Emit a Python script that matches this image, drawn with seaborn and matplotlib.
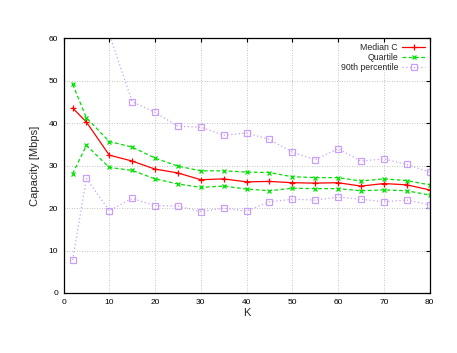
import numpy as np
import matplotlib
matplotlib.use("Agg")
import matplotlib.pyplot as plt
import seaborn as sns

# valores
k = [2, 5, 10, 15, 20, 25, 30, 35, 40, 45, 50, 55, 60, 65, 70, 75, 80]
median_c = [43.6, 40.3, 32.5, 31.1, 29.2, 28.3, 26.7, 26.9, 26.2, 26.3, 26.0, 25.9, 26.0, 25.2, 25.8, 25.5, 24.3]
quartile_hi = [49.2, 41.3, 35.7, 34.4, 31.8, 29.9, 28.8, 28.8, 28.5, 28.4, 27.4, 27.2, 27.2, 26.4, 26.9, 26.5, 25.5]
quartile_lo = [28.1, 34.8, 29.6, 28.9, 26.9, 25.7, 24.9, 25.2, 24.5, 24.1, 24.7, 24.6, 24.6, 24.1, 24.3, 24.1, 23.1]
pct90_hi = [80.0, 68.0, 61.0, 45.1, 42.6, 39.3, 39.1, 37.2, 37.7, 36.2, 33.2, 31.4, 34.0, 31.1, 31.6, 30.3, 28.5]
pct90_lo = [7.8, 27.0, 19.4, 22.3, 20.6, 20.5, 19.2, 20.0, 19.3, 21.5, 22.1, 21.9, 22.6, 22.1, 21.5, 21.9, 20.8]

sns.set_style("white")
plt.rcParams['font.family'] = ['Liberation Sans', 'DejaVu Sans']

fig = plt.figure(figsize=(4.57, 3.53), dpi=100)
ax = fig.add_axes([0.139, 0.170, 0.801, 0.721])

red = "#ff0000"
green = "#00e000"
purple = "#c8a0f8"

sns.lineplot(x=k, y=median_c, ax=ax, color=red, lw=0.9, marker="+", markersize=5,
             markeredgewidth=0.9, markeredgecolor=red, label="Median C")
sns.lineplot(x=k, y=quartile_hi, ax=ax, color=green, lw=0.9, ls=(0, (3, 2)), marker="x",
             markersize=3.5, markeredgewidth=0.9, markeredgecolor=green, label="Quartile")
sns.lineplot(x=k, y=quartile_lo, ax=ax, color=green, lw=0.9, ls=(0, (3, 2)), marker="x",
             markersize=3.5, markeredgewidth=0.9, markeredgecolor=green)
sns.lineplot(x=k, y=pct90_hi, ax=ax, color=purple, lw=0.9, ls=(0, (1, 2)), marker="s",
             markersize=4, markerfacecolor="none", markeredgecolor=purple,
             markeredgewidth=0.9, label="90th percentile")
sns.lineplot(x=k, y=pct90_lo, ax=ax, color=purple, lw=0.9, ls=(0, (1, 2)), marker="s",
             markersize=4, markerfacecolor="none", markeredgecolor=purple,
             markeredgewidth=0.9)

ax.set_xlim(0, 80)
ax.set_ylim(0, 60)
ax.set_xticks(range(0, 81, 10))
ax.set_yticks(range(0, 61, 10))
ax.grid(True, color="#b0b0b0", ls=(0, (1, 2)), lw=0.6)
ax.tick_params(direction="in", length=3, width=0.8, labelsize=6, top=True, right=True,
               colors="black", pad=4)
for s in ax.spines.values():
    s.set_color("black")
    s.set_linewidth(0.9)

ax.set_xlabel("K", fontsize=8, labelpad=2)
ax.set_ylabel("Capacity [Mbps]", fontsize=8, labelpad=6)

leg = ax.legend(loc="upper right", frameon=False, markerfirst=False, fontsize=6.3,
                handlelength=2.6, handletextpad=0.5, labelspacing=0.1,
                borderaxespad=0.3, borderpad=0.2)

fig.savefig("out.png", dpi=100)
